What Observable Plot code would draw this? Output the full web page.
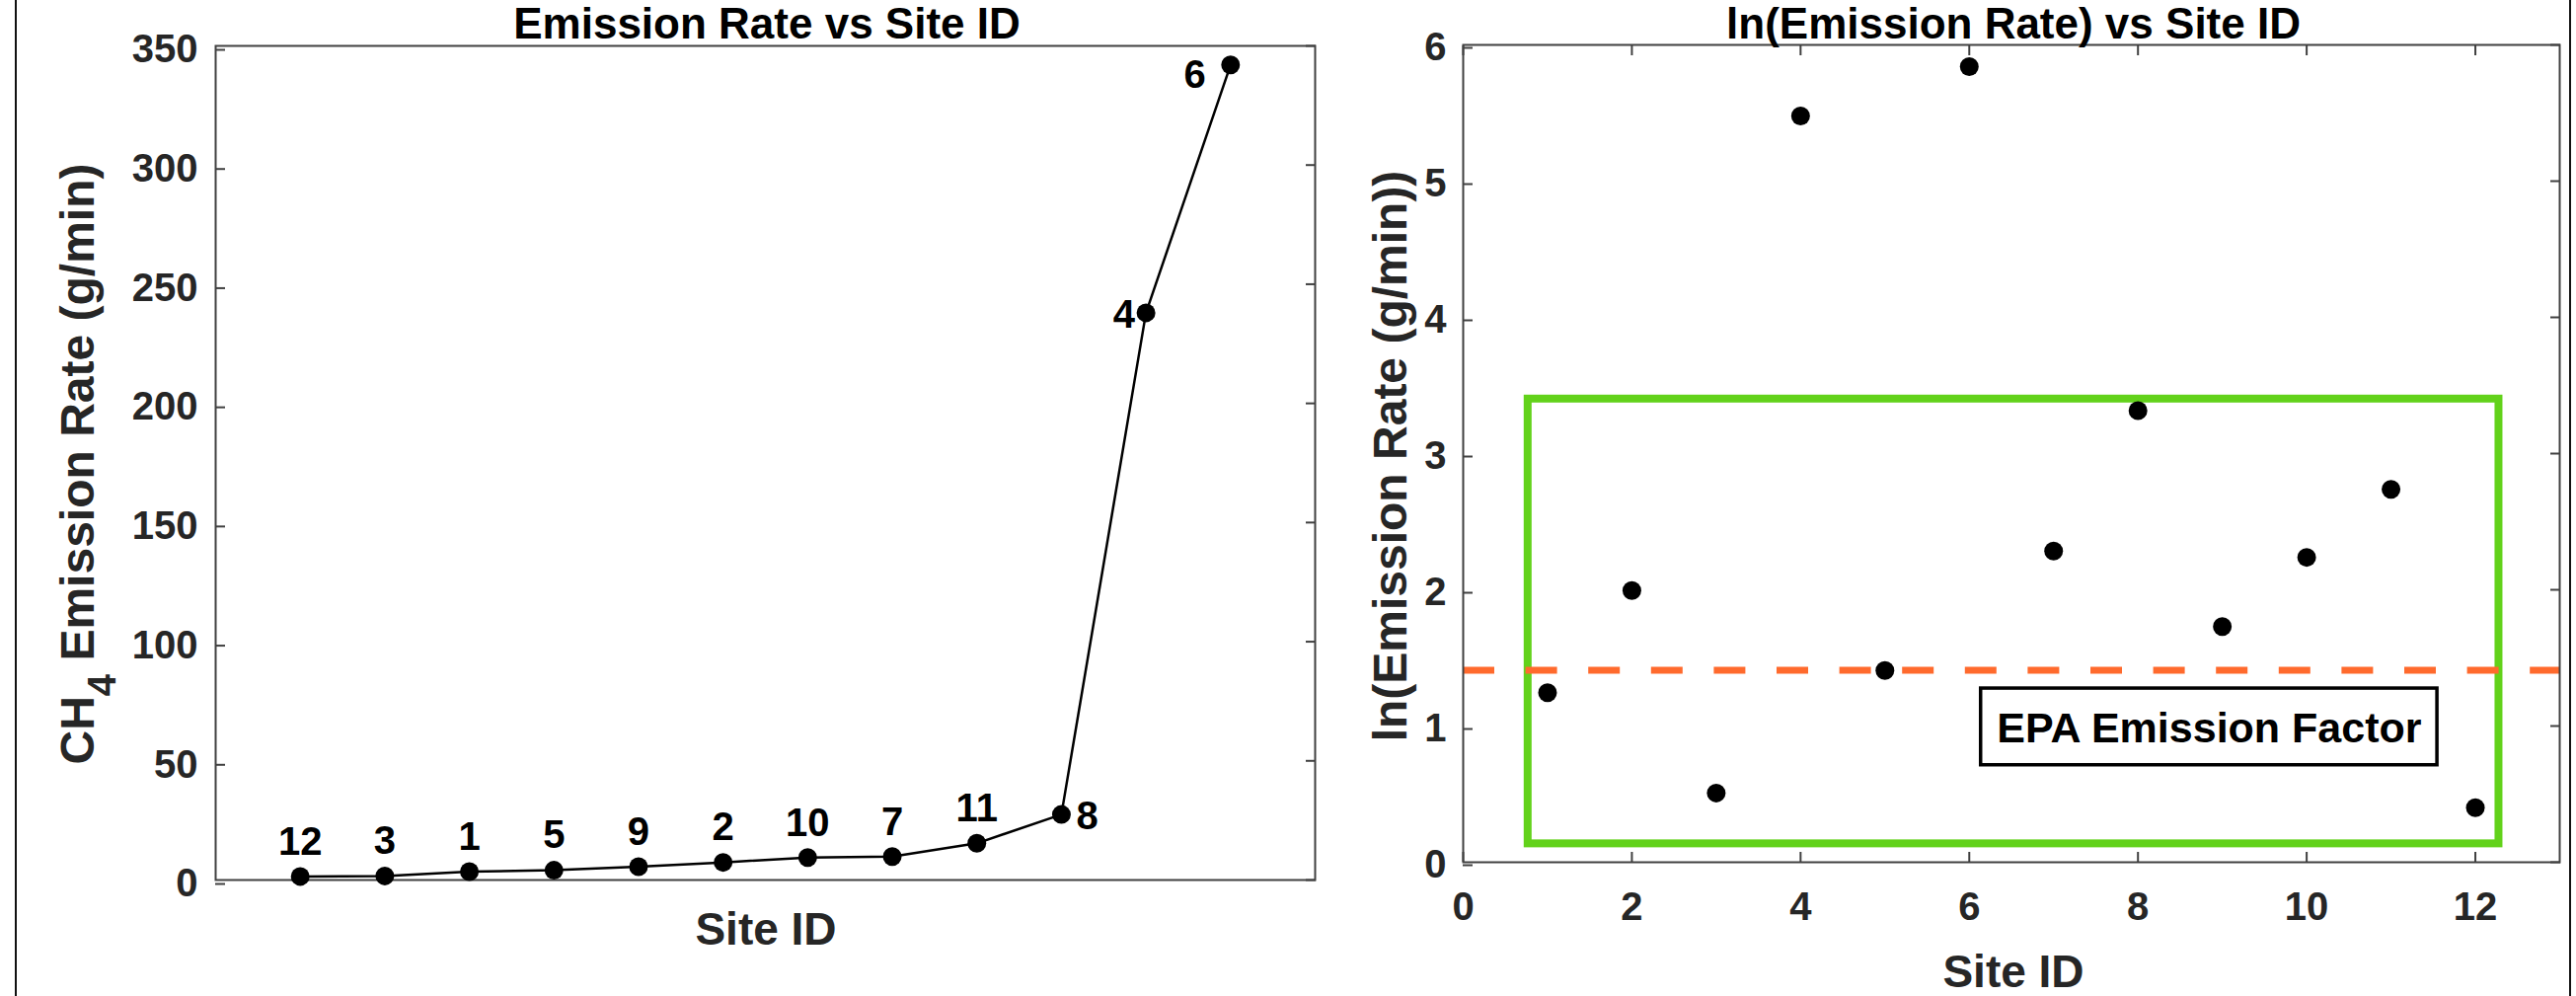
<!DOCTYPE html>
<html>
<head>
<meta charset="utf-8">
<script src="https://cdn.jsdelivr.net/npm/d3@7"></script>
<script src="https://cdn.jsdelivr.net/npm/@observablehq/plot@0.6"></script>
<style>
  body { margin: 0; background: #fff; }
  #root { position: relative; width: 2610px; height: 1009px; overflow: hidden; background: #fff;
          font-family: "Liberation Sans", Arial, Helvetica, sans-serif; }
  #root > svg { position: absolute; top: 0; }
  .vline { position: absolute; top: 0; height: 1009px; width: 2px; background: #111; }
</style>
</head>
<body>
<div id="root"></div>
<script>
// ---- Left panel: sites sorted by emission rate ----
const sortedSites = [12, 3, 1, 5, 9, 2, 10, 7, 11, 8, 4, 6];
const sortedRates = [1.5, 1.7, 3.5, 4.1, 5.6, 7.4, 9.4, 9.8, 15.4, 27.5, 238, 342]; // g/min
const yTicksLeft = [0, 50, 100, 150, 200, 250, 300, 350];

// ---- Right panel: ln(emission rate) by site ----
const siteIds = [1, 2, 3, 4, 5, 6, 7, 8, 9, 10, 11, 12];
const lnRates = [1.245, 1.995, 0.508, 5.478, 1.408, 5.841, 2.284, 3.315, 1.730, 2.238, 2.737, 0.401];
const xTicksRight = [0, 2, 4, 6, 8, 10, 12];
const yTicksRight = [0, 1, 2, 3, 4, 5, 6];
const epaFactor = 1.41;                       // ln(g/min)
const greenBox = {x1: 0.77, x2: 12.28, y1: 0.135, y2: 3.40};
const epaLabelBox = {x1: 6.14, x2: 11.55, y1: 0.712, y2: 1.275};
const epaLabel = "EPA Emission Factor";

const FONT = '"Liberation Sans", Arial, Helvetica, sans-serif';
const TICK = "#262626";
const intFmt = d3.format("d");

const leftData = sortedSites.map((s, i) => ({rank: i + 1, site: s, rate: sortedRates[i]}));
const rightData = siteIds.map((s, i) => ({site: s, ln: lnRates[i]}));

const baseStyle = {fontFamily: FONT, fontSize: "40px", fontWeight: "bold", color: TICK, background: "transparent", overflow: "visible"};

const leftPlot = Plot.plot({
  width: 1360, height: 1009,
  marginLeft: 218, marginRight: 28, marginTop: 46, marginBottom: 118,
  x: {domain: [0, 13], axis: null},
  y: {domain: [0, 350]},
  style: baseStyle,
  marks: [
    Plot.axisY(yTicksLeft, {anchor: "left", tickSize: -10, tickPadding: 28, tickFormat: intFmt, label: null, fontSize: 40, fontWeight: "bold", fill: TICK, stroke: "#404040", strokeWidth: 2, dy: 4}),
    Plot.axisY(yTicksLeft, {anchor: "right", tickSize: -10, tickFormat: () => "", label: null, stroke: "#404040", strokeWidth: 2}),
    Plot.frame({stroke: "#404040", strokeWidth: 2}),
    Plot.line(leftData, {x: "rank", y: "rate", stroke: "black", strokeWidth: 2.5}),
    Plot.dot(leftData, {x: "rank", y: "rate", r: 9.5, fill: "black"}),
    Plot.text(leftData.slice(0, 9), {x: "rank", y: "rate", text: d => String(d.site), dy: -35, lineAnchor: "middle", fill: "black", fontSize: 40, fontWeight: "bold"}),
    Plot.text(leftData.filter(d => d.site === 8), {x: "rank", y: "rate", text: d => String(d.site), dx: 15, textAnchor: "start", fill: "black", fontSize: 40, fontWeight: "bold", dy: 2}),
    Plot.text(leftData.filter(d => d.site === 4), {x: "rank", y: "rate", text: d => String(d.site), dx: -11, textAnchor: "end", fill: "black", fontSize: 40, fontWeight: "bold", dy: 2}),
    Plot.text(leftData.filter(d => d.site === 6), {x: "rank", y: "rate", text: d => String(d.site), dx: -25, textAnchor: "end", fill: "black", fontSize: 40, fontWeight: "bold", dy: 10})
  ]
});
leftPlot.style.left = "0px";

const rightPlot = Plot.plot({
  width: 1250, height: 1009,
  marginLeft: 122, marginRight: 17, marginTop: 45, marginBottom: 136,
  x: {domain: [0, 13]},
  y: {domain: [0, 6]},
  style: baseStyle,
  marks: [
    Plot.rect([greenBox], {x1: "x1", x2: "x2", y1: "y1", y2: "y2", fill: "none", stroke: "#62d21a", strokeWidth: 8}),
    Plot.ruleY([epaFactor], {stroke: "#ff6a2d", strokeWidth: 7, strokeDasharray: "32,31.6"}),
    Plot.dot(rightData, {x: "site", y: "ln", r: 9.5, fill: "black"}),
    Plot.rect([epaLabelBox], {x1: "x1", x2: "x2", y1: "y1", y2: "y2", fill: "white", stroke: "black", strokeWidth: 3.5}),
    Plot.text([epaLabelBox], {x: d => (d.x1 + d.x2) / 2, y: d => (d.y1 + d.y2) / 2, text: () => epaLabel, fill: "black", fontSize: 43, fontWeight: "bold", lineAnchor: "middle", dy: 2}),
    Plot.axisY(yTicksRight, {anchor: "left", tickSize: -10, tickPadding: 27, tickFormat: intFmt, label: null, fontSize: 40, fontWeight: "bold", fill: TICK, stroke: "#404040", strokeWidth: 2, dy: 3}),
    Plot.axisY(yTicksRight, {anchor: "right", tickSize: -10, tickFormat: () => "", label: null, stroke: "#404040", strokeWidth: 2}),
    Plot.axisX(xTicksRight, {anchor: "bottom", tickSize: -10, tickPadding: 40, tickFormat: intFmt, label: null, fontSize: 40, fontWeight: "bold", fill: TICK, stroke: "#404040", strokeWidth: 2}),
    Plot.axisX(xTicksRight, {anchor: "top", tickSize: -10, tickFormat: () => "", label: null, stroke: "#404040", strokeWidth: 2}),
    Plot.frame({stroke: "#404040", strokeWidth: 2})
  ]
});
rightPlot.style.left = "1360px";

const root = document.getElementById("root");
root.appendChild(leftPlot);
root.appendChild(rightPlot);

// Titles and axis labels overlay
const ov = d3.create("svg").attr("width", 2610).attr("height", 1009)
  .style("left", "0px").style("pointer-events", "none")
  .attr("font-family", FONT).attr("font-weight", "bold").attr("text-anchor", "middle");

ov.append("text").attr("x", 777).attr("y", 39).attr("font-size", 44).attr("fill", "#000").text("Emission Rate vs Site ID");
ov.append("text").attr("x", 2040).attr("y", 39).attr("font-size", 44).attr("fill", "#000").text("ln(Emission Rate) vs Site ID");
ov.append("text").attr("x", 776).attr("y", 957).attr("font-size", 46).attr("fill", TICK).text("Site ID");
ov.append("text").attr("x", 2040).attr("y", 1000).attr("font-size", 46).attr("fill", TICK).text("Site ID");

const yl = ov.append("text").attr("transform", "translate(95,470) rotate(-90)").attr("font-size", 48).attr("fill", TICK);
yl.append("tspan").text("CH");
yl.append("tspan").attr("dy", 22).attr("font-size", 40).text("4");
yl.append("tspan").attr("dy", -22).text(" Emission Rate (g/min)");

ov.append("text").attr("transform", "translate(1425,462) rotate(-90)").attr("font-size", 48).attr("fill", TICK).text("ln(Emission Rate (g/min))");

root.appendChild(ov.node());

// figure border lines
const b1 = document.createElement("div"); b1.className = "vline"; b1.style.left = "15px"; root.appendChild(b1);
const b2 = document.createElement("div"); b2.className = "vline"; b2.style.left = "2603px"; root.appendChild(b2);
</script>
</body>
</html>
